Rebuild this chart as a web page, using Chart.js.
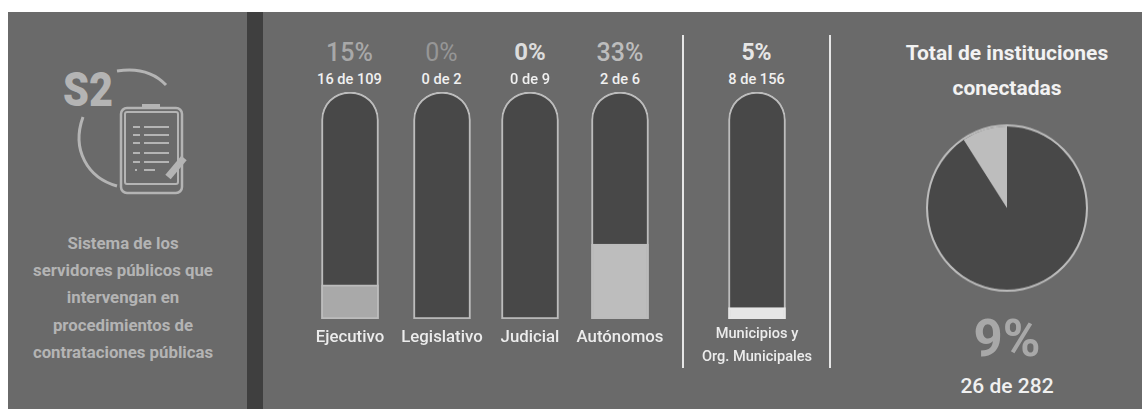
<!DOCTYPE html>
<html lang="es">
<head>
<meta charset="utf-8">
<title>S2</title>
<script src="https://cdn.jsdelivr.net/npm/chart.js@4/dist/chart.umd.min.js"></script>
<style>
  html, body { margin: 0; padding: 0; background: #fff; }
  #panel { position: absolute; left: 8px; top: 12px; width: 1134px; height: 397px; background: #6a6a6a; overflow: hidden; }
  #stage { position: absolute; left: 0; top: 0; width: 1142px; height: 409px; overflow: hidden; font-family: Roboto, sans-serif; }
  .stripe { position: absolute; left: 247px; top: 12px; width: 16px; height: 397px; background: #3f3f3f; }
  .sep { position: absolute; top: 35px; width: 2px; height: 333px; background: #e6e6e6; }
  .txt { position: absolute; transform: translate(-50%, -50%); white-space: nowrap; text-align: center; }
  canvas { position: absolute; }
  svg { position: absolute; left: 0; top: 0; }
</style>
</head>
<body>
<div id="stage">
  <div id="panel"></div>
  <div class="stripe"></div>
  <div class="sep" style="left:682px"></div>
  <div class="sep" style="left:829px"></div>
  <svg width="300" height="220" fill="none" stroke="#b4b4b4">
    <path d="M117 71 Q148 66 166 85" stroke-width="3"/>
    <path d="M83 117 C71 150 88 178 117 186" stroke-width="3"/>
    <rect x="121" y="108" width="61" height="85" rx="6" stroke-width="2.5"/>
    <rect x="125" y="112" width="53" height="72" rx="2" stroke-width="2"/>
    <rect x="142" y="104" width="18" height="4" fill="#b4b4b4" stroke="none"/>
    <path d="M133 127H140M144 127H169M133 135H140M144 135H169M133 143H140M144 143H169M133 153H140M144 153H169M133 162H140M144 162H169M135 170H137M144 170H155" stroke-width="2"/>
    <path d="M184 158L168 177" stroke-width="7"/>
    <text x="63" y="106" font-family="Roboto, sans-serif" font-weight="900" font-size="48" fill="#b4b4b4" stroke="none" textLength="50" lengthAdjust="spacingAndGlyphs">S2</text>
  </svg>
</div>
<script>
const categories = [['Ejecutivo'], ['Legislativo'], ['Judicial'], ['Autónomos'], ['Municipios y', 'Org. Municipales']];
const percentValues = [15, 0, 0, 33, 5];
const trackValues = [100, 100, 100, 100, 100];
const percentLabels = ['15%', '0%', '0%', '33%', '5%'];
const countLabels = ['16 de 109', '0 de 2', '0 de 9', '2 de 6', '8 de 156'];
const pieValues = [256, 26];
const pieTotal = [282];
const descriptionLines = ['Sistema de los', 'servidores públicos que', 'intervengan en', 'procedimientos de', 'contrataciones públicas'];

const TRACK = '#484848', EDGE = '#bcbcbc';
const fillColors = ['#a9a9a9', '#a9a9a9', '#a9a9a9', '#bdbdbd', '#e6e6e6'];
const percentColors = ['#a8a8a8', '#969696', '#dcdcdc', '#bdbdbd', '#e6e6e6'];
const percentWeights = [500, 400, 700, 500, 700];
const percentSizes = [25, 25, 24, 25, 23];
const barCenters = [349.5, 441.5, 530, 620, 756.5];
const tickPaddings = [1, 1, 1, 1, -3.5];
const tickSizes = [16.8, 16.8, 16.8, 16.8, 14.6];
const tickLines = [1.2, 1.2, 1.2, 1.2, 1.55];

const stage = document.getElementById('stage');

function addText(text, x, y, size, weight, color) {
  const el = document.createElement('div');
  el.className = 'txt';
  el.textContent = text;
  el.style.cssText = `left:${x}px;top:${y}px;font-size:${size}px;font-weight:${weight};color:${color}`;
  stage.appendChild(el);
}

function addCanvas(left, top, w, h, cssH) {
  const c = document.createElement('canvas');
  c.width = w; c.height = h;
  c.style.cssText = `left:${left}px;top:${top}px;width:${w}px;height:${cssH || h}px`;
  stage.appendChild(c);
  return c;
}

descriptionLines.forEach((line, i) => addText(line, 123, 243 + i * 27.2, 16.8, 700, '#b4b4b4'));

categories.forEach((cat, i) => {
  addText(percentLabels[i], barCenters[i], 52, percentSizes[i], percentWeights[i], percentColors[i]);
  addText(countLabels[i], barCenters[i], 79, 14.6, 500, '#f0f0f0');

  new Chart(addCanvas(barCenters[i] - 70, 84, 140, 290), {
    type: 'bar',
    data: {
      labels: [cat],
      datasets: [
        { data: [percentValues[i]], backgroundColor: fillColors[i], borderColor: i === 4 ? '#e6e6e6' : EDGE, borderWidth: percentValues[i] ? 2 : 0, borderSkipped: false, barThickness: 57, grouped: false, order: 1 },
        { data: [trackValues[i]], backgroundColor: TRACK, borderColor: EDGE, borderWidth: 2, borderSkipped: false, barThickness: 57, grouped: false, order: 2,
          borderRadius: { topLeft: 28, topRight: 28, bottomLeft: 0, bottomRight: 0 } },
      ],
    },
    options: {
      responsive: false, animation: false, events: [],
      layout: { padding: { top: 8 } },
      plugins: { legend: { display: false }, tooltip: { enabled: false } },
      scales: {
        x: {
          grid: { display: false }, border: { display: false },
          afterFit: s => { s.height = 55; },
          ticks: { color: '#ececec', padding: tickPaddings[i], maxRotation: 0, autoSkip: false, font: { family: 'Roboto', weight: 500, size: tickSizes[i], lineHeight: tickLines[i] } },
        },
        y: { display: false, min: 0, max: 100 },
      },
    },
  });
});

addText('Total de instituciones', 1007, 53, 21, 700, '#f2f2f2');
addText('conectadas', 1007, 88, 21, 700, '#f2f2f2');
addText('9%', 1007, 338, 51, 700, '#a8a8a8');
addText('26 de 282', 1007, 386, 21, 500, '#f0f0f0');

// reference picture is a little taller than wide, so the pie canvas is stretched by css
new Chart(addCanvas(917, 115, 180, 180, 186), {
  type: 'pie',
  data: {
    labels: ['Sin conectar', 'Conectadas'],
    datasets: [
      { data: pieTotal, backgroundColor: [EDGE], borderWidth: 0, weight: 1 },
      { data: pieValues, backgroundColor: [TRACK, '#bdbdbd'], borderWidth: 0, weight: 39 },
    ],
  },
  options: {
    responsive: false, animation: false, events: [],
    radius: 81,
    plugins: { legend: { display: false }, tooltip: { enabled: false } },
  },
});
</script>
</body>
</html>
